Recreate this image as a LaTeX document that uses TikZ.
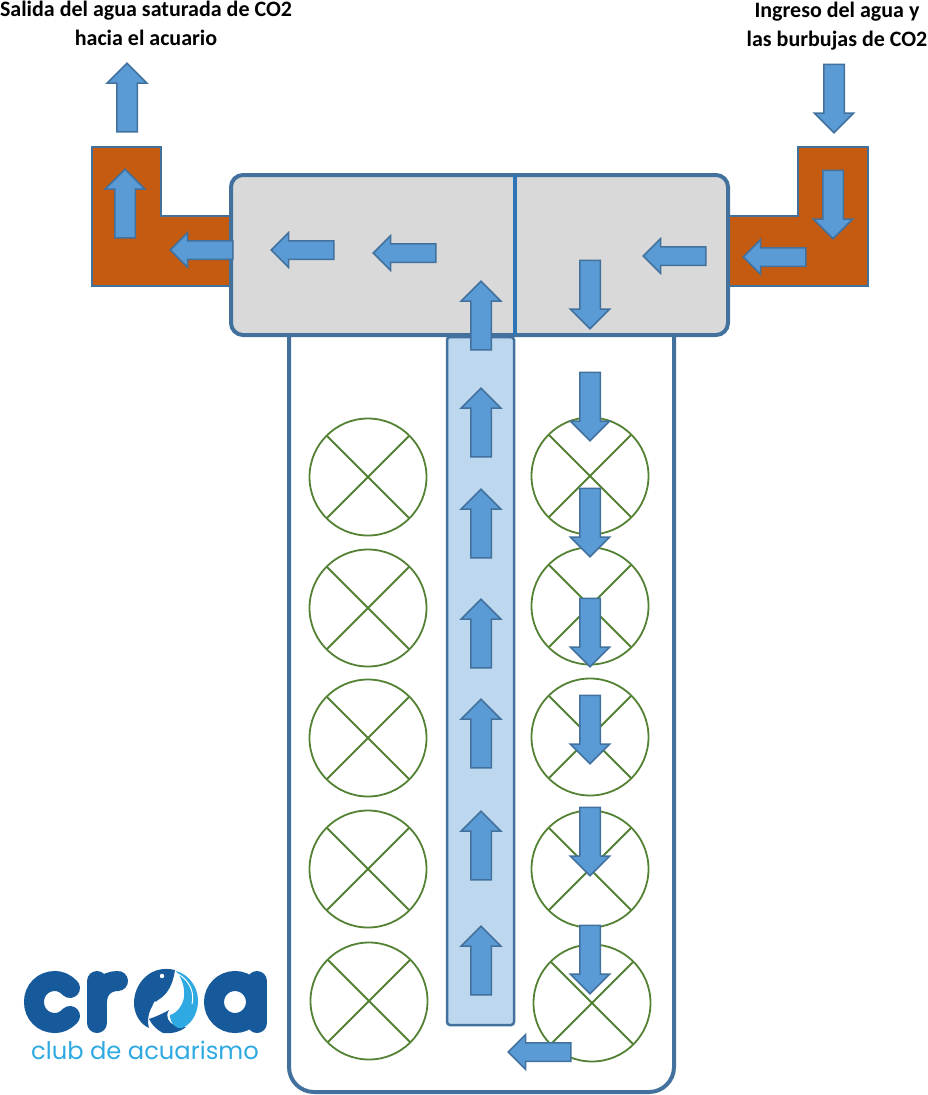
\documentclass[tikz,border=0pt]{standalone}
\usepackage{fontspec}
\setmainfont{Carlito}
\newfontfamily\logofont{Poppins}
\usetikzlibrary{shapes.arrows}
\definecolor{lineblue}{HTML}{41719C}
\definecolor{flowblue}{HTML}{5B9BD5}
\definecolor{divblue}{HTML}{2E75B6}
\definecolor{columnblue}{HTML}{BDD7EE}
\definecolor{pipeorange}{HTML}{C55A11}
\definecolor{chambergray}{HTML}{D9D9D9}
\definecolor{ballgreen}{HTML}{548235}
\definecolor{logodark}{HTML}{175A9B}
\definecolor{logolight}{HTML}{2FA9E1}
\begin{document}
\begin{tikzpicture}[x=1pt,y=-1pt,
	flow/.style={shape=single arrow, draw=lineblue, line width=1.5pt, fill=flowblue, inner sep=0pt, anchor=tail, single arrow tip angle=90},
	flowv/.style={flow, minimum height=68.5pt, minimum width=38.5pt, single arrow head extend=9.5pt, text height=19pt, text depth=0pt, text width=0pt},
	flowh/.style={flow, minimum height=62.5pt, minimum width=33.5pt, single arrow head extend=8pt, text height=17pt, text depth=0pt, text width=0pt},
	flowup/.style={flowv, rotate=90},
	flowdown/.style={flowv, rotate=-90},
	flowleft/.style={flowh, rotate=180},
	pipe/.style={draw=lineblue, line width=1.5pt, fill=pipeorange},
	ball/.style={shape=circle, draw=ballgreen, line width=1.8pt, fill=white, minimum size=117pt, inner sep=0pt,
		path picture={\draw[ballgreen, line width=1.8pt] (path picture bounding box.north west) -- (path picture bounding box.south east) (path picture bounding box.north east) -- (path picture bounding box.south west);}},
	caption/.style={font=\bfseries\fontsize{22}{24}\selectfont, inner sep=0pt},
	logoline/.style={draw=logodark, line width=20pt, line cap=round}]
	\useasboundingbox (0,0) rectangle (927,1095);

	% tank
	\draw[draw=lineblue, line width=4pt, rounded corners=25pt] (289,335) -- (289,1092) -- (674,1092) -- (674,335);

	% elbows
	\draw[pipe] (92,147) -- (161,147) -- (161,216) -- (235,216) -- (235,286) -- (92,286) -- cycle;
	\draw[pipe] (798,147) -- (868,147) -- (868,286) -- (725,286) -- (725,216) -- (798,216) -- cycle;

	% top chamber
	\draw[draw=lineblue, line width=4pt, fill=chambergray, rounded corners=12pt] (231,175) rectangle (728,335);
	\draw[draw=divblue, line width=3.5pt] (515,175) -- (515,335);

	% riser
	\draw[draw=lineblue, line width=2.5pt, fill=columnblue, rounded corners=3pt] (447,337) rectangle (514,1025);

	% balls
	\node (ballL1) at (368,477) [ball] {};
	\node (ballL2) at (368,608) [ball] {};
	\node (ballL3) at (368,738) [ball] {};
	\node (ballL4) at (368,869) [ball] {};
	\node (ballL5) at (369,1001) [ball] {};
	\node (ballR1) at (590,476) [ball] {};
	\node (ballR2) at (590,606) [ball] {};
	\node (ballR3) at (590,737) [ball] {};
	\node (ballR4) at (590,869) [ball] {};
	\node (ballR5) at (592,1003) [ball] {};

	% arrows in and out
	\node (outUp) at (127,132.5) [flowup] {};
	\node (elbowUp) at (125,238.5) [flowup] {};
	\node (elbowLeft) at (233.5,250) [flowleft] {};
	\node (chamberLeftA) at (334.5,250) [flowleft] {};
	\node (chamberLeftB) at (436.5,253) [flowleft] {};
	\node (chamberLeftC) at (706.5,256) [flowleft] {};
	\node (inLeft) at (806.5,257) [flowleft] {};
	\node (inDown) at (834,63.5) [flowdown] {};
	\node (inElbowDown) at (833,169.5) [flowdown] {};

	% down the tank
	\node (downA) at (590,259.5) [flowdown] {};
	\node (downB) at (590,371.5) [flowdown] {};
	\node (downC) at (590,487.5) [flowdown] {};
	\node (downD) at (590,597.5) [flowdown] {};
	\node (downE) at (590,694.5) [flowdown] {};
	\node (downF) at (590,806.5) [flowdown] {};
	\node (downG) at (590,924.5) [flowdown] {};
	\node (bottomLeft) at (571.5,1052) [flowleft] {};

	% up the riser
	\node (upA) at (481,995.5) [flowup] {};
	\node (upB) at (481,880.5) [flowup] {};
	\node (upC) at (481,768.5) [flowup] {};
	\node (upD) at (481,668.5) [flowup] {};
	\node (upE) at (481,558.5) [flowup] {};
	\node (upF) at (481,457.5) [flowup] {};
	\node (upG) at (481,350.5) [flowup] {};

	% captions
	\node (outText) at (146,23) [caption, align=center] {Salida del agua saturada de CO2\\[5pt]hacia el acuario};
	\node (inText) at (837,26) [caption, align=center] {Ingreso del agua y\\[5pt]las burbujas de CO2};

	% logo
	\draw[logoline] (70,988) .. controls (65,983) and (60,981) .. (55,981) .. controls (43,981) and (34,990) .. (34,1002) .. controls (34,1014) and (43,1023) .. (55,1023) .. controls (60,1023) and (65,1021) .. (70,1016);
	\draw[logoline] (97,981) -- (97,1023);
	\draw[logoline] (97,1002) .. controls (97,989) and (106,981) .. (118,981);
	\draw[draw=logodark, line width=20pt] (235,1002) circle (21pt);
	\draw[logoline] (257,981) -- (257,1023);
	\fill[logodark] (175,970) .. controls (150,964) and (134,984) .. (134,1003) .. controls (134,1014) and (140,1024) .. (149,1028) .. controls (146,1018) and (150,1006) .. (158,1000) .. controls (167,995) and (173,985) .. (175,970) -- cycle;
	\fill[white] (152,1016) .. controls (150,1010) and (153,1004) .. (155,1001) .. controls (159,1004) and (159,1008) .. (158,1012) .. controls (156,1011) and (154,1012) .. (152,1016) -- cycle;
	\fill[white] (162,976) circle (2.2pt);
	\fill[logodark] (149,1019) .. controls (155,1017) and (162,1014) .. (169,1010) .. controls (165,1016) and (168,1023) .. (175,1025) .. controls (179,1027) and (183,1027) .. (186,1027) .. controls (180,1032) and (171,1034) .. (163,1033) .. controls (157,1030) and (152,1025) .. (149,1019) -- cycle;
	\fill[logolight] (176,971) .. controls (191,975) and (199,990) .. (198,1003) .. controls (197,1016) and (190,1025) .. (182,1028) .. controls (175,1029) and (170,1023) .. (170,1015) .. controls (177,1013) and (183,1005) .. (184,997) .. controls (185,988) and (182,978) .. (176,971) -- cycle;
	\draw[draw=white, line width=1pt] (178,974) .. controls (189,980) and (195,992) .. (192,1004);
	\node (logoText) at (145,1050) [inner sep=0pt, text=logolight, font=\logofont\fontsize{24.2}{24.2}\selectfont] {club de acuarismo};
\end{tikzpicture}
\end{document}
